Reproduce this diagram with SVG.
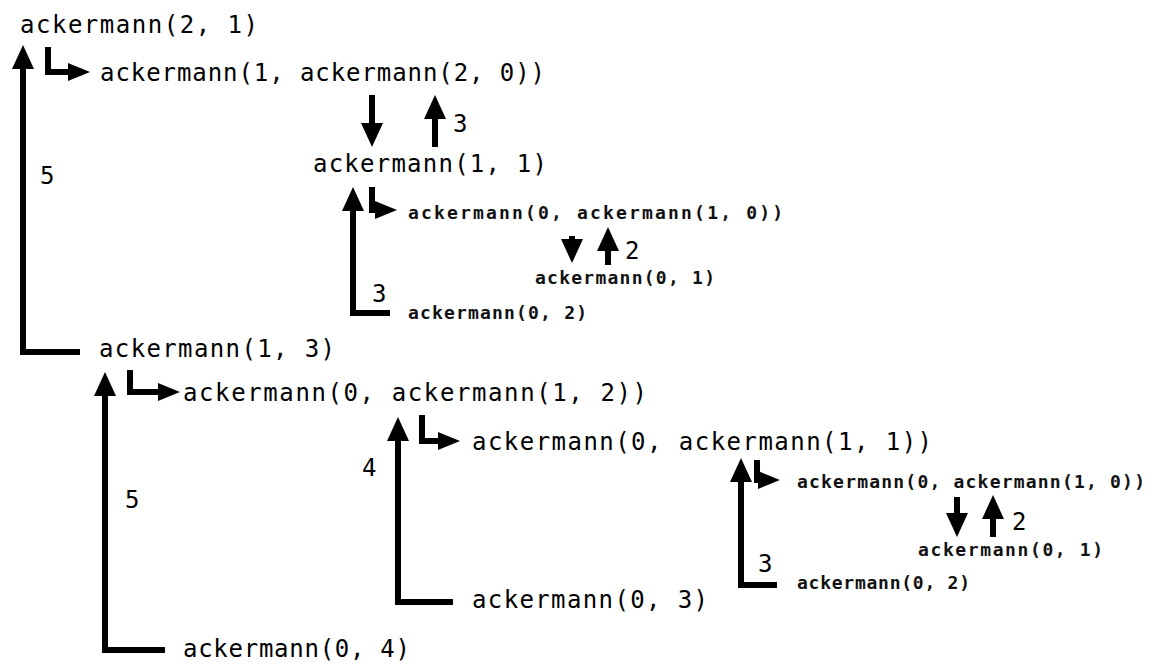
<svg xmlns="http://www.w3.org/2000/svg" width="1152" height="664" viewBox="0 0 1152 664">
<style>
  .big { font-family: "DejaVu Sans Mono", "Liberation Mono", monospace; font-size: 24px; font-weight: 500; fill: #000; }
  .small { font-family: "DejaVu Sans Mono", "Liberation Mono", monospace; font-size: 18px; font-weight: bold; fill: #111; }
  .num { font-family: "DejaVu Sans Mono", "Liberation Mono", monospace; font-size: 24px; fill: #000; }
  .c { fill: none; stroke: #000; stroke-width: 6; stroke-linejoin: miter; stroke-linecap: butt; }
  .v { marker-end: url(#ah); }
  .h { marker-end: url(#hk); }
</style>
<defs>
  <marker id="ah" markerUnits="userSpaceOnUse" viewBox="0 0 24 24" markerWidth="24" markerHeight="24" refX="2" refY="12" orient="auto">
    <path d="M0,1 L24,12 L0,23 Z" fill="#000"/>
  </marker>
  <marker id="hk" markerUnits="userSpaceOnUse" viewBox="0 0 22 20" markerWidth="22" markerHeight="20" refX="2" refY="10" orient="auto">
    <path d="M0,1 L22,10 L0,19 Z" fill="#000"/>
  </marker>
</defs>
<rect width="1152" height="664" fill="#fff"/>

<g id="connectors">
  <path class="c v" d="M80,352 H23 V67"/>
  <path class="c h" d="M48,47 V72 H70"/>
  <path class="c v" d="M372,95 V125"/>
  <path class="c v" d="M435,147 V117"/>
  <path class="c v" d="M390,313 H353 V209"/>
  <path class="c h" d="M372,187 V210 H377"/>
  <path class="c v" d="M572,236 V241"/>
  <path class="c v" d="M608,265 V249"/>
  <path class="c v" d="M165,650 H105 V394"/>
  <path class="c h" d="M130,370 V392 H160"/>
  <path class="c v" d="M453,602 H398 V439"/>
  <path class="c h" d="M422,415 V441 H440"/>
  <path class="c v" d="M777,585 H741 V480"/>
  <path class="c h" d="M757,460 V480 H760"/>
  <path class="c v" d="M957,497 V515"/>
  <path class="c v" d="M993,537 V517"/>
</g>

<g id="n_a21"><text class="big" x="20" y="33" textLength="238" lengthAdjust="spacing">ackermann(2, 1)</text></g>
<g id="n_a1_a20"><text class="big" x="100" y="81" textLength="445" lengthAdjust="spacing">ackermann(1, ackermann(2, 0))</text></g>
<g id="n_a11"><text class="big" x="313" y="172" textLength="234" lengthAdjust="spacing">ackermann(1, 1)</text></g>
<g id="n_a0_a10_1"><text class="small" x="408" y="219" textLength="375" lengthAdjust="spacing">ackermann(0, ackermann(1, 0))</text></g>
<g id="n_a01_1"><text class="small" x="535" y="284" textLength="180" lengthAdjust="spacing">ackermann(0, 1)</text></g>
<g id="n_a02_1"><text class="small" x="408" y="319" textLength="179" lengthAdjust="spacing">ackermann(0, 2)</text></g>
<g id="n_a13"><text class="big" x="99" y="357" textLength="236" lengthAdjust="spacing">ackermann(1, 3)</text></g>
<g id="n_a0_a12"><text class="big" x="183" y="401" textLength="464" lengthAdjust="spacing">ackermann(0, ackermann(1, 2))</text></g>
<g id="n_a0_a11"><text class="big" x="472" y="450" textLength="460" lengthAdjust="spacing">ackermann(0, ackermann(1, 1))</text></g>
<g id="n_a0_a10_2"><text class="small" x="797" y="488" textLength="348" lengthAdjust="spacing">ackermann(0, ackermann(1, 0))</text></g>
<g id="n_a01_2"><text class="small" x="918" y="556" textLength="185" lengthAdjust="spacing">ackermann(0, 1)</text></g>
<g id="n_a02_2"><text class="small" x="797" y="589" textLength="173" lengthAdjust="spacing">ackermann(0, 2)</text></g>
<g id="n_a03"><text class="big" x="472" y="608" textLength="236" lengthAdjust="spacing">ackermann(0, 3)</text></g>
<g id="n_a04"><text class="big" x="183" y="657" textLength="227" lengthAdjust="spacing">ackermann(0, 4)</text></g>

<g id="labels">
  <text class="num" x="453" y="132">3</text>
  <text class="num" x="40" y="184">5</text>
  <text class="num" x="625" y="259">2</text>
  <text class="num" x="372" y="302">3</text>
  <text class="num" x="362" y="476">4</text>
  <text class="num" x="125" y="508">5</text>
  <text class="num" x="1012" y="530">2</text>
  <text class="num" x="758" y="572">3</text>
</g>
</svg>
